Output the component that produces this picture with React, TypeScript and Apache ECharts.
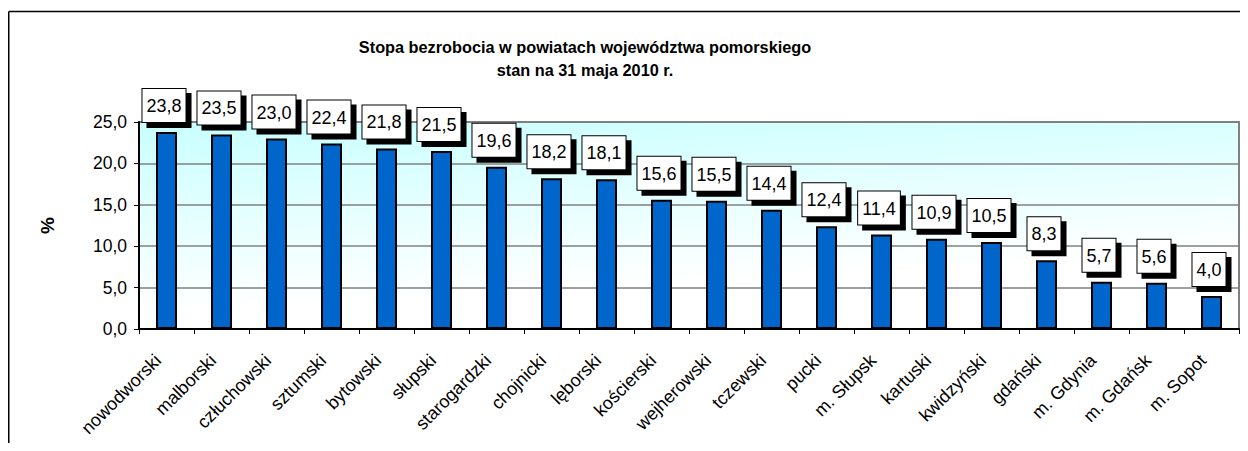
import React, { useEffect, useRef } from "react";
import * as echarts from "echarts";

const categories = [
  "nowodworski",
  "malborski",
  "człuchowski",
  "sztumski",
  "bytowski",
  "słupski",
  "starogardzki",
  "chojnicki",
  "lęborski",
  "kościerski",
  "wejherowski",
  "tczewski",
  "pucki",
  "m. Słupsk",
  "kartuski",
  "kwidzyński",
  "gdański",
  "m. Gdynia",
  "m. Gdańsk",
  "m. Sopot",
];

const values = [
  23.8, 23.5, 23.0, 22.4, 21.8, 21.5, 19.6, 18.2, 18.1, 15.6, 15.5, 14.4, 12.4,
  11.4, 10.9, 10.5, 8.3, 5.7, 5.6, 4.0,
];

const titleLines = [
  "Stopa bezrobocia w powiatach województwa pomorskiego",
  "stan na 31 maja 2010 r.",
];

const yAxisName = "%";

const FONT = "'Liberation Sans', Arial, sans-serif";
const fmt = (v: number) => v.toFixed(1).replace(".", ",");

export default function App() {
  const ref = useRef<HTMLDivElement>(null);
  useEffect(() => {
    const chart = echarts.init(ref.current!, null, { renderer: "svg" });
    chart.setOption({
      animation: false,
      textStyle: { fontFamily: FONT },
      graphic: [
        {
          type: "line",
          shape: { x1: 0.75, y1: 3.5, x2: 1240, y2: 3.5 },
          style: { stroke: "#000", lineWidth: 1.5 },
          silent: true,
        },
        {
          type: "line",
          shape: { x1: 0.75, y1: 3.5, x2: 0.75, y2: 440 },
          style: { stroke: "#000", lineWidth: 1.5 },
          silent: true,
        },
        {
          type: "text",
          x: 577,
          y: 39,
          style: {
            text: titleLines[0],
            fontFamily: FONT,
            fontSize: 16.3,
            fontWeight: "bold",
            fill: "#000",
            align: "center",
            verticalAlign: "middle",
          },
        },
        {
          type: "text",
          x: 577,
          y: 62,
          style: {
            text: titleLines[1],
            fontFamily: FONT,
            fontSize: 16.3,
            fontWeight: "bold",
            fill: "#000",
            align: "center",
            verticalAlign: "middle",
          },
        },
      ],
      grid: {
        left: 131,
        top: 114,
        right: 1,
        bottom: 114,
        show: true,
        borderColor: "#808080",
        borderWidth: 2,
        backgroundColor: {
          type: "linear",
          x: 0,
          y: 0,
          x2: 0.3,
          y2: 1,
          colorStops: [
            { offset: 0, color: "#c8ffff" },
            { offset: 0.85, color: "#ffffff" },
            { offset: 1, color: "#ffffff" },
          ],
        },
      },
      xAxis: {
        type: "category",
        data: categories,
        boundaryGap: true,
        axisLine: { lineStyle: { color: "#000", width: 2 } },
        axisTick: { show: true, length: 5, lineStyle: { color: "#000", width: 1 } },
        axisLabel: {
          interval: 0,
          rotate: 45,
          fontSize: 18,
          color: "#000",
          fontFamily: FONT,
          margin: 20,
          padding: [0, 12, 0, 0],
        },
        splitLine: { show: false },
      },
      yAxis: {
        type: "value",
        min: 0,
        max: 25,
        interval: 5,
        name: yAxisName,
        nameLocation: "middle",
        nameRotate: 90,
        nameGap: 82,
        nameTextStyle: {
          fontSize: 19,
          fontWeight: "bold",
          color: "#000",
          fontFamily: FONT,
        },
        axisLine: { show: true, lineStyle: { color: "#000", width: 2 } },
        axisTick: { show: true, length: 5, lineStyle: { color: "#000", width: 1 } },
        axisLabel: {
          fontSize: 17.5,
          color: "#000",
          fontFamily: FONT,
          margin: 12,
          formatter: (v: number) => fmt(v),
        },
        splitLine: { show: true, lineStyle: { color: "#808080", width: 1.5 } },
      },
      series: [
        {
          type: "bar",
          data: values,
          barWidth: 21,
          itemStyle: { color: "#0066cc", borderColor: "#000", borderWidth: 2 },
          label: {
            show: true,
            position: "top",
            distance: 10,
            offset: [-2.5, 0],
            formatter: (p: any) => fmt(p.value),
            fontSize: 18,
            fontFamily: FONT,
            color: "#000",
            lineHeight: 20,
            backgroundColor: "#fff",
            borderColor: "#000",
            borderWidth: 1,
            padding: [7, 4, 6, 4],
            shadowColor: "#000",
            shadowBlur: 0,
            shadowOffsetX: 5,
            shadowOffsetY: 5,
          },
        },
      ],
    });
    return () => chart.dispose();
  }, []);
  return <div ref={ref} style={{ width: 1232, height: 435 }} />;
}
